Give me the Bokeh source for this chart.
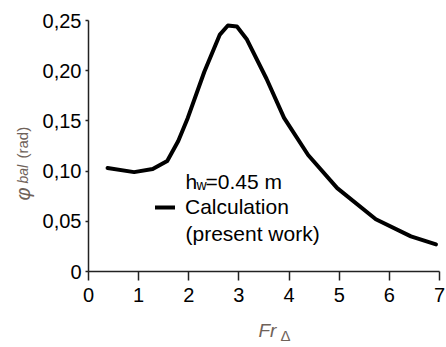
from bokeh.plotting import figure
from bokeh.models import (Range1d, FixedTicker, CustomJSTickFormatter, Label,
                          Legend, LegendItem)
from bokeh.embed import file_html
from bokeh.resources import INLINE

# Data
fr = [0.38, 0.91, 1.28, 1.57, 1.79, 1.98, 2.31, 2.62, 2.78, 2.96, 3.16, 3.55, 3.90, 4.38, 4.96, 5.73, 6.43, 6.93]
phi = [0.103, 0.099, 0.102, 0.110, 0.130, 0.153, 0.199, 0.236, 0.245, 0.244, 0.231, 0.192, 0.153, 0.116, 0.083, 0.052, 0.035, 0.027]
x_ticks = [0, 1, 2, 3, 4, 5, 6, 7]
y_ticks = [0, 0.05, 0.10, 0.15, 0.20, 0.25]
x_lo, x_hi = 0, 7
y_lo, y_hi = 0, 0.25

FONT = "Liberation Sans"
TITLE_COLOR = "#6f6259"

W, H = 446, 347
# plot area inside the canvas (pixels): left, right, top, bottom
PL, PR, PT, PB = 88, 439, 20, 271
sx = (x_hi - x_lo) / (PR - PL)
sy = (y_hi - y_lo) / (PB - PT)
xr = Range1d(x_lo - PL * sx, x_hi + (W - PR) * sx)
yr = Range1d(y_lo - (H - PB) * sy, y_hi + PT * sy)

def dx(px):
    return x_lo + (px - PL) * sx

def dy(py):
    return y_lo + (PB - py) * sy

p = figure(width=W, height=H, output_backend="svg", toolbar_location=None,
           x_range=xr, y_range=yr, min_border=0)
p.outline_line_color = None
p.xgrid.visible = False
p.ygrid.visible = False
p.background_fill_color = "white"
p.border_fill_color = "white"

r = p.line(fr, phi, line_color="black", line_width=4, line_join="round", line_cap="round")

p.xaxis.ticker = FixedTicker(ticks=x_ticks)
p.yaxis.ticker = FixedTicker(ticks=y_ticks)
p.yaxis.formatter = CustomJSTickFormatter(
    code='return tick == 0 ? "0" : tick.toFixed(2).replace(".", ",");')
p.xaxis.fixed_location = y_lo
p.yaxis.fixed_location = x_lo
p.xaxis.bounds = (x_lo, x_hi)
p.yaxis.bounds = (y_lo, y_hi)
for ax in (p.xaxis, p.yaxis):
    ax.axis_line_width = 1.5
    ax.axis_line_color = "#222222"
    ax.major_tick_line_color = "#222222"
    ax.major_tick_line_width = 1.5
    ax.minor_tick_line_color = None
    ax.major_tick_in = 0
    ax.major_label_text_font = FONT
    ax.major_label_text_font_size = "20px"
    ax.major_label_text_color = "black"
p.xaxis.major_tick_out = 9
p.xaxis.major_label_standoff = 7
p.yaxis.major_tick_out = 3
p.yaxis.major_label_standoff = 4

# legend
legend = Legend(items=[LegendItem(label="Calculation", renderers=[r])],
                location=(155, H - 219), padding=0, margin=0, glyph_width=20,
                label_standoff=10, border_line_alpha=0, background_fill_alpha=0,
                label_text_font=FONT, label_text_font_size="21px",
                label_text_color="black")
p.add_layout(legend, "center")

def add(text, px, py, size, style="normal", color="black", angle=0, baseline="alphabetic"):
    p.add_layout(Label(x=dx(px), y=dy(py), text=text, text_font=FONT, text_font_size=size,
                       text_font_style=style, text_color=color, angle=angle,
                       angle_units="deg", text_baseline=baseline, text_align="left"))

# legend extras
add("(present work)", 185, 233, "21px")
add("h", 185, 181, "21px")
add("w", 196, 184, "14px")
add("=0.45 m", 205, 181, "21px")

# x title
add("Fr", 258, 330, "19px", "italic", TITLE_COLOR)
add("Δ", 280, 335, "15px", "normal", TITLE_COLOR)

# y title (rotated)
add("φ", 22, 200, "20px", "italic", TITLE_COLOR, 90, "middle")
add("bal", 22, 183, "14px", "italic", TITLE_COLOR, 90, "middle")
add("(rad)", 22, 158, "15px", "normal", TITLE_COLOR, 90, "middle")

open("out.html", "w").write(file_html(p, INLINE))
